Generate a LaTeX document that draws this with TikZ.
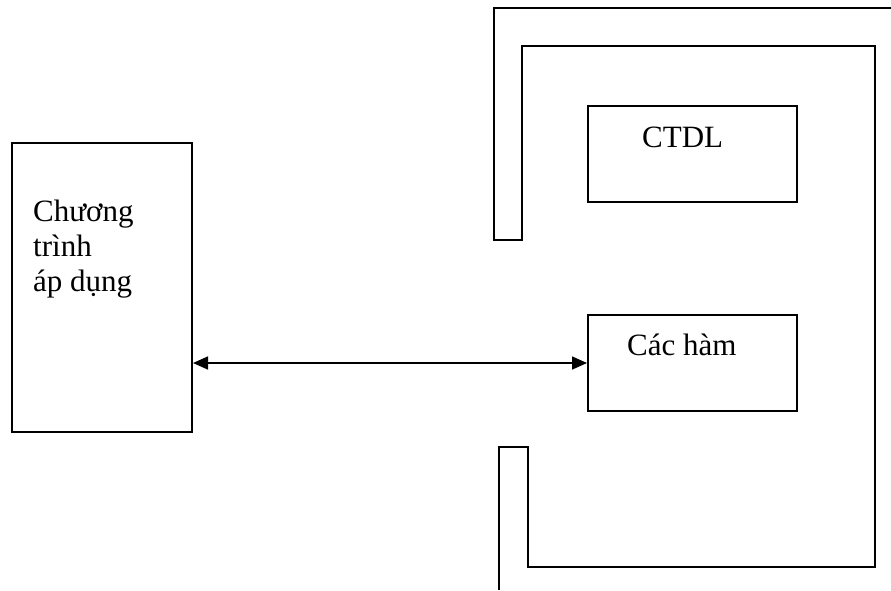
\documentclass[tikz,border=0pt]{standalone}
\usepackage{fontspec}
\setmainfont{Liberation Serif}
\usetikzlibrary{arrows.meta}

\begin{document}
\begin{tikzpicture}[x=1pt, y=-1pt]
\tikzset{hop/.style={draw, line width=2pt, rectangle, minimum width=209pt, minimum height=96pt},
chu/.style={anchor=base west, inner sep=0pt, align=left, font=\fontsize{31}{35}\selectfont}}
\useasboundingbox (0,0) rectangle (891,590);
\node[draw, line width=2pt, minimum width=180pt, minimum height=289pt] (CT) at (102,287.5) {};
\node[hop] (CTDL) at (692.5,154) {};
\node[hop] (HAM) at (692.5,363) {};
\node[chu] (tCT) at (33,291) {Chương\\trình\\áp dụng};
\node[chu] (tCTDL) at (642,147) {CTDL};
\node[chu] (tHAM) at (627,355) {Các hàm};
\draw[line width=2pt] (891,8) -- (494,8) -- (494,240) -- (522,240) -- (522,46) -- (875,46)
  -- (875,567) -- (528,567) -- (528,447) -- (499,447) -- (499,590);
\draw[line width=1.6pt, {Triangle[length=15pt,width=13pt]}-{Triangle[length=15pt,width=13pt]}] (CT.east |- HAM.west) -- (HAM.west);
\end{tikzpicture}
\end{document}
